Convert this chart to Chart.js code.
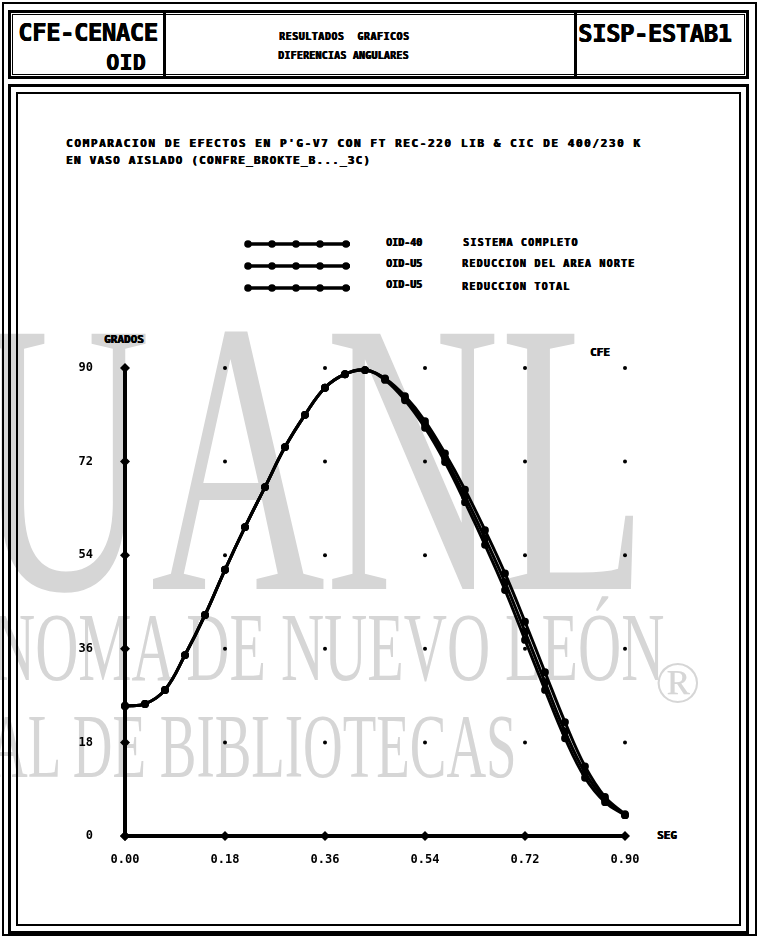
<!DOCTYPE html>
<html>
<head>
<meta charset="utf-8">
<script src="https://cdn.jsdelivr.net/npm/chart.js@4/dist/chart.umd.min.js"></script>
<style>
  html,body{margin:0;padding:0;background:#fff;}
  body{width:759px;height:938px;position:relative;overflow:hidden;font-family:'DejaVu Sans Mono',monospace;font-weight:bold;color:#000;}
  .abs{position:absolute;}
  .wm{position:absolute;color:#d6d6d6;font-family:'Liberation Serif',serif;font-weight:normal;white-space:nowrap;transform-origin:0 0;line-height:1;}
  .box{position:absolute;border:3px solid #000;box-sizing:border-box;}
  .t{position:absolute;white-space:nowrap;line-height:1;text-shadow:0.6px 0 0 #000,0 0.4px 0 #000;}
  #chart{position:absolute;left:30px;top:300px;}
</style>
</head>
<body>
<!-- watermark -->
<div class="wm" style="left:-24px;top:262px;font-size:390px;transform:scaleX(0.62);">UANL</div>
<div class="wm" style="left:-8px;top:598px;font-size:98px;transform:scaleX(0.61);">NOMA DE NUEVO LEÓN</div>
<div class="wm" style="left:655px;top:652px;font-size:60px;">®</div>
<div class="wm" style="left:-12px;top:702px;font-size:90px;transform:scaleX(0.61);">AL DE BIBLIOTECAS</div>

<!-- page frame -->
<div class="box" style="left:2px;top:2px;width:755px;height:934px;border-width:2px;"></div>
<!-- header -->
<div class="box" style="left:8px;top:10px;width:741px;height:69px;"></div>
<div class="box" style="left:12px;top:14px;width:733px;height:61px;border-width:1px;"></div>
<div class="abs" style="left:163px;top:12px;width:3px;height:65px;background:#000;"></div>
<div class="abs" style="left:574px;top:12px;width:3px;height:65px;background:#000;"></div>
<div class="t" style="left:18px;top:21px;font-size:24px;letter-spacing:-0.5px;">CFE-CENACE</div>
<div class="t" style="left:106px;top:52px;font-size:22px;">OID</div>
<div class="t" style="left:578px;top:22px;font-size:24px;letter-spacing:-0.5px;">SISP-ESTAB1</div>
<div class="t" style="left:279px;top:32px;font-size:10px;letter-spacing:0.5px;">RESULTADOS &nbsp;GRAFICOS</div>
<div class="t" style="left:278px;top:51px;font-size:10px;letter-spacing:0.2px;">DIFERENCIAS ANGULARES</div>

<!-- main frame -->
<div class="box" style="left:8px;top:84px;width:741px;height:850px;"></div>
<div class="box" style="left:16px;top:92px;width:725px;height:834px;border-width:2px;"></div>

<!-- title -->
<div class="t" style="left:66px;top:138px;font-size:11px;letter-spacing:1.6px;">COMPARACION DE EFECTOS EN P'G-V7 CON FT REC-220 LIB &amp; CIC DE 400/230 K</div>
<div class="t" style="left:66px;top:155px;font-size:11px;letter-spacing:1.2px;">EN VASO AISLADO (CONFRE_BROKTE_B..._3C)</div>

<!-- legend -->
<svg class="abs" style="left:240px;top:232px;" width="120" height="70" id="legsvg"></svg>
<div class="t" style="left:386px;top:238px;font-size:10px;">OID-40</div>
<div class="t" style="left:386px;top:259px;font-size:10px;">OID-U5</div>
<div class="t" style="left:386px;top:280px;font-size:10px;">OID-U5</div>
<div class="t" style="left:463px;top:238px;font-size:10px;letter-spacing:1.2px;">SISTEMA COMPLETO</div>
<div class="t" style="left:462px;top:259px;font-size:10px;letter-spacing:1.2px;">REDUCCION DEL AREA NORTE</div>
<div class="t" style="left:462px;top:282px;font-size:10px;letter-spacing:1.2px;">REDUCCION TOTAL</div>

<!-- axis titles -->
<div class="t" style="left:104px;top:334px;font-size:11px;">GRADOS</div>
<div class="t" style="left:590px;top:347px;font-size:11px;">CFE</div>
<div class="t" style="left:657px;top:830px;font-size:11px;">SEG</div>

<canvas id="chart" width="700" height="600"></canvas>

<script>
// ---- data ----
const timeSeg = [0.000,0.036,0.072,0.108,0.144,0.180,0.216,0.252,0.288,0.324,0.360,0.396,0.432,0.468,0.504,0.540,0.576,0.612,0.648,0.684,0.720,0.756,0.792,0.828,0.864,0.900];
const sistemaCompleto = [25.0,25.4,28.1,34.8,42.5,51.2,59.4,67.1,74.8,81.0,86.2,88.8,89.6,87.7,83.8,78.5,71.9,64.2,56.0,47.3,37.7,28.1,18.8,11.2,6.5,4.0];
const reduccionAreaNorte = [25.0,25.4,28.1,34.8,42.5,51.2,59.4,67.1,74.8,81.0,86.2,88.8,89.6,87.9,84.2,79.2,72.7,65.3,57.3,48.8,39.3,29.6,20.1,12.2,7.0,4.0];
const reduccionTotal = [25.0,25.4,28.1,34.8,42.5,51.2,59.4,67.1,74.8,81.0,86.2,88.8,89.6,88.0,84.6,79.8,73.6,66.6,58.8,50.5,41.2,31.5,21.9,13.4,7.5,4.2];
const xTickValues = [0, 0.18, 0.36, 0.54, 0.72, 0.90];
const xTickLabels = ['0.00','0.18','0.36','0.54','0.72','0.90'];
const yTickValues = [0, 18, 36, 54, 72, 90];
const yTickLabels = ['0','18','36','54','72','90'];
const seriesNames = ['SISTEMA COMPLETO','REDUCCION DEL AREA NORTE','REDUCCION TOTAL'];

// legend samples
(function(){
  const svg = document.getElementById('legsvg');
  let s = '';
  [12,34,56].forEach(cy=>{
    s += `<line x1="6" y1="${cy}" x2="110" y2="${cy}" stroke="#000" stroke-width="3.5"/>`;
    [8,32,56,80,106].forEach(cx=>{ s += `<circle cx="${cx}" cy="${cy}" r="3.8" fill="#000"/>`; });
  });
  svg.innerHTML = s;
})();

const mk = (arr) => timeSeg.map((t,i)=>({x:t,y:arr[i]}));

const decor = {
  id:'decor',
  beforeDatasetsDraw(chart){
    const {ctx, scales:{x,y}} = chart;
    ctx.save();
    ctx.fillStyle = '#000';
    xTickValues.forEach(xv=>{
      yTickValues.forEach(yv=>{
        if (xv===0 || yv===0) return;
        ctx.beginPath();
        ctx.arc(x.getPixelForValue(xv), y.getPixelForValue(yv), 2, 0, Math.PI*2);
        ctx.fill();
      });
    });
    const diamond = (px,py,r)=>{
      ctx.beginPath(); ctx.moveTo(px,py-r); ctx.lineTo(px+r,py); ctx.lineTo(px,py+r); ctx.lineTo(px-r,py); ctx.closePath(); ctx.fill();
    };
    const x0 = x.getPixelForValue(0), y0 = y.getPixelForValue(0);
    yTickValues.forEach(yv=>diamond(x0, y.getPixelForValue(yv), 5));
    xTickValues.forEach(xv=>diamond(x.getPixelForValue(xv), y0, 5));
    ctx.restore();
  }
};

const common = {borderColor:'#000', backgroundColor:'#000', borderWidth:3, pointRadius:2.4, pointHoverRadius:2.4, tension:0.4, fill:false, clip:false};

new Chart(document.getElementById('chart'), {
  type:'line',
  data:{
    datasets:[
      Object.assign({label:seriesNames[0], data:mk(sistemaCompleto)}, common),
      Object.assign({label:seriesNames[1], data:mk(reduccionAreaNorte)}, common),
      Object.assign({label:seriesNames[2], data:mk(reduccionTotal)}, common)
    ]
  },
  options:{
    responsive:false, animation:false, devicePixelRatio:1,
    layout:{padding:{top:68,right:105,left:0,bottom:0}},
    plugins:{legend:{display:false}, tooltip:{enabled:false}},
    scales:{
      x:{
        type:'linear', min:0, max:0.9,
        afterBuildTicks:(s)=>{ s.ticks = xTickValues.map(v=>({value:v})); },
        afterFit:(s)=>{ s.height = 64; },
        ticks:{padding:17, color:'#000', font:{family:'DejaVu Sans Mono', size:12, weight:'bold'},
          callback:(v)=>{ const i = xTickValues.indexOf(v); return i>=0 ? xTickLabels[i] : ''; }},
        grid:{display:true, drawOnChartArea:false, drawTicks:false},
        border:{display:true, color:'#000', width:4}
      },
      y:{
        type:'linear', min:0, max:90,
        afterBuildTicks:(s)=>{ s.ticks = yTickValues.map(v=>({value:v})); },
        afterFit:(s)=>{ s.width = 95; },
        ticks:{padding:32, color:'#000', font:{family:'DejaVu Sans Mono', size:12, weight:'bold'},
          callback:(v)=>{ const i = yTickValues.indexOf(v); return i>=0 ? yTickLabels[i] : ''; }},
        grid:{display:true, drawOnChartArea:false, drawTicks:false},
        border:{display:true, color:'#000', width:4}
      }
    }
  },
  plugins:[decor]
});
</script>
</body>
</html>
